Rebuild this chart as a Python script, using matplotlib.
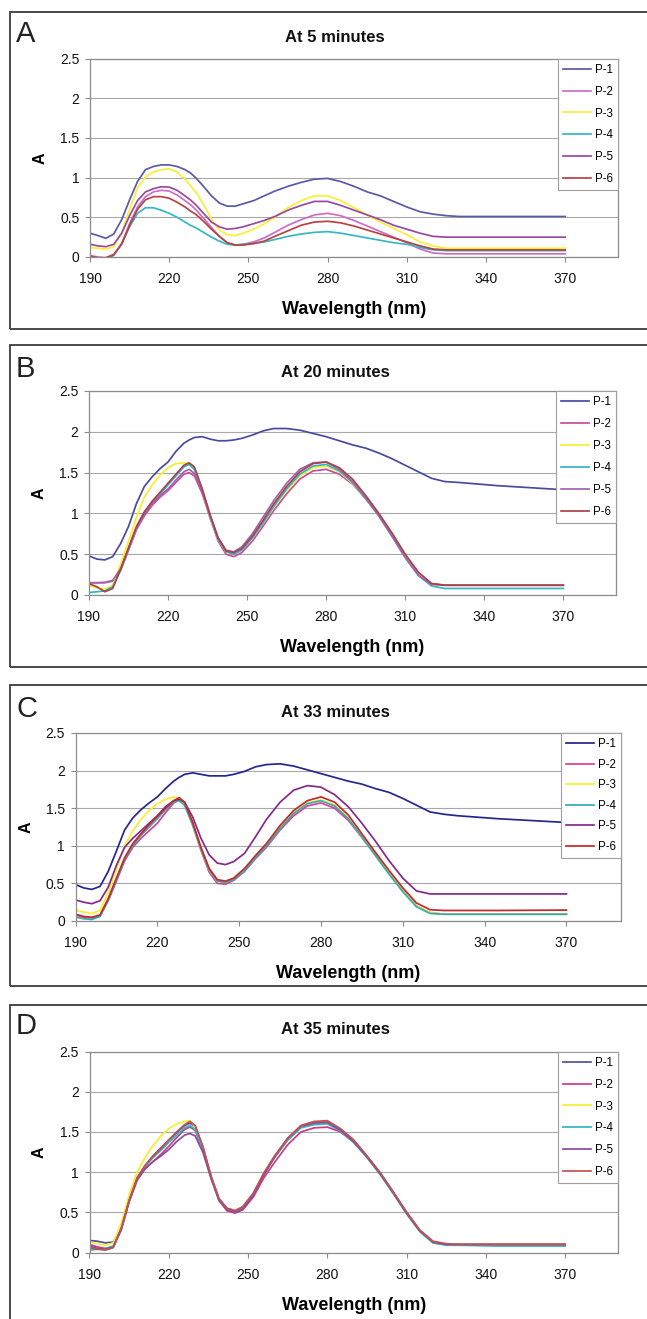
import matplotlib
matplotlib.use('Agg')
import matplotlib.pyplot as plt
from matplotlib.patches import Rectangle

plt.rcParams['font.family'] = ['Liberation Sans', 'DejaVu Sans']

# ---------------- data ----------------
WAVELENGTH = [190, 193, 196, 199, 202, 205, 208, 211, 214, 217, 220, 223, 226, 228, 230, 233,
              236, 239, 242, 245, 248, 252, 256, 260, 265, 270, 275, 280, 285, 290, 295, 300,
              305, 310, 315, 320, 325, 330, 345, 370]
SERIES = ['P-1', 'P-2', 'P-3', 'P-4', 'P-5', 'P-6']
LETTERS = ['A', 'B', 'C', 'D']
TITLES = ['At 5 minutes', 'At 20 minutes', 'At 33 minutes', 'At 35 minutes']
X_TICKS = [190, 220, 250, 280, 310, 340, 370]
Y_TICKS = [0, 0.5, 1, 1.5, 2, 2.5]
Y_TICK_LABELS = ['0', '0.5', '1', '1.5', '2', '2.5']

# Panel A - 5 minutes
A_P1 = [0.30, 0.27, 0.235, 0.29, 0.47, 0.72, 0.95, 1.10, 1.14, 1.16, 1.16, 1.14, 1.10, 1.06, 1.00, 0.89,
        0.77, 0.68, 0.64, 0.64, 0.67, 0.71, 0.77, 0.83, 0.89, 0.94, 0.98, 0.99, 0.95, 0.89, 0.82, 0.77,
        0.70, 0.63, 0.57, 0.54, 0.52, 0.51, 0.51, 0.51]
A_P2 = [0.02, 0.00, -0.01, 0.03, 0.17, 0.42, 0.63, 0.76, 0.82, 0.84, 0.83, 0.78, 0.71, 0.66, 0.60, 0.49,
        0.37, 0.26, 0.18, 0.15, 0.16, 0.19, 0.24, 0.31, 0.40, 0.47, 0.53, 0.55, 0.52, 0.46, 0.39, 0.32,
        0.25, 0.18, 0.10, 0.05, 0.04, 0.04, 0.04, 0.04]
A_P3 = [0.12, 0.11, 0.10, 0.13, 0.30, 0.60, 0.87, 1.01, 1.07, 1.10, 1.11, 1.07, 0.98, 0.90, 0.82, 0.66,
        0.48, 0.34, 0.28, 0.27, 0.30, 0.35, 0.42, 0.50, 0.62, 0.71, 0.77, 0.77, 0.71, 0.62, 0.53, 0.44,
        0.36, 0.28, 0.19, 0.14, 0.11, 0.11, 0.11, 0.11]
A_P4 = [-0.06, -0.06, -0.04, 0.02, 0.17, 0.38, 0.55, 0.62, 0.62, 0.59, 0.55, 0.50, 0.44, 0.40, 0.37, 0.31,
        0.25, 0.20, 0.16, 0.15, 0.16, 0.17, 0.19, 0.22, 0.26, 0.29, 0.31, 0.32, 0.30, 0.27, 0.24, 0.21,
        0.18, 0.16, 0.12, 0.09, 0.08, 0.08, 0.08, 0.08]
A_P5 = [0.16, 0.14, 0.13, 0.16, 0.30, 0.52, 0.71, 0.82, 0.86, 0.885, 0.88, 0.84, 0.77, 0.72, 0.66, 0.55,
        0.44, 0.38, 0.35, 0.36, 0.38, 0.42, 0.46, 0.51, 0.59, 0.65, 0.70, 0.70, 0.65, 0.59, 0.53, 0.47,
        0.40, 0.35, 0.30, 0.26, 0.25, 0.25, 0.25, 0.25]
A_P6 = [0.01, -0.01, -0.01, 0.03, 0.16, 0.40, 0.60, 0.72, 0.76, 0.76, 0.74, 0.69, 0.63, 0.58, 0.54, 0.45,
        0.35, 0.26, 0.18, 0.15, 0.15, 0.17, 0.20, 0.26, 0.33, 0.40, 0.44, 0.45, 0.43, 0.39, 0.34, 0.29,
        0.24, 0.19, 0.14, 0.10, 0.09, 0.09, 0.09, 0.09]

# Panel B - 20 minutes
B_P1 = [0.48, 0.44, 0.43, 0.47, 0.63, 0.84, 1.12, 1.33, 1.45, 1.55, 1.63, 1.76, 1.86, 1.90, 1.93, 1.94,
        1.91, 1.89, 1.89, 1.90, 1.92, 1.96, 2.01, 2.04, 2.04, 2.02, 1.98, 1.94, 1.89, 1.84, 1.80, 1.74,
        1.67, 1.59, 1.51, 1.43, 1.39, 1.38, 1.34, 1.29]
B_P2 = [0.15, 0.15, 0.15, 0.17, 0.30, 0.55, 0.80, 0.97, 1.10, 1.20, 1.28, 1.38, 1.48, 1.50, 1.46, 1.24,
        0.94, 0.66, 0.50, 0.47, 0.52, 0.66, 0.84, 1.03, 1.24, 1.42, 1.52, 1.54, 1.48, 1.36, 1.18, 0.98,
        0.74, 0.49, 0.27, 0.14, 0.12, 0.12, 0.12, 0.12]
B_P3 = [0.12, 0.09, 0.07, 0.12, 0.38, 0.66, 0.95, 1.20, 1.35, 1.47, 1.56, 1.61, 1.62, 1.61, 1.53, 1.27,
        0.96, 0.68, 0.53, 0.51, 0.56, 0.70, 0.88, 1.07, 1.28, 1.46, 1.56, 1.58, 1.51, 1.37, 1.18, 0.97,
        0.73, 0.47, 0.25, 0.13, 0.12, 0.12, 0.12, 0.12]
B_P4 = [0.03, 0.04, 0.05, 0.10, 0.30, 0.56, 0.82, 1.00, 1.13, 1.24, 1.35, 1.46, 1.57, 1.60, 1.54, 1.28,
        0.96, 0.68, 0.53, 0.50, 0.55, 0.70, 0.88, 1.08, 1.30, 1.48, 1.58, 1.60, 1.52, 1.38, 1.18, 0.97,
        0.72, 0.46, 0.24, 0.11, 0.08, 0.08, 0.08, 0.08]
B_P5 = [0.15, 0.15, 0.155, 0.18, 0.32, 0.57, 0.82, 0.99, 1.12, 1.22, 1.30, 1.41, 1.51, 1.54, 1.49, 1.26,
        0.97, 0.70, 0.55, 0.53, 0.59, 0.75, 0.95, 1.15, 1.37, 1.54, 1.62, 1.63, 1.54, 1.39, 1.19, 0.97,
        0.72, 0.46, 0.24, 0.13, 0.12, 0.12, 0.12, 0.12]
B_P6 = [0.14, 0.10, 0.04, 0.08, 0.32, 0.58, 0.84, 1.02, 1.15, 1.26, 1.37, 1.48, 1.59, 1.62, 1.57, 1.30,
        0.98, 0.70, 0.54, 0.52, 0.57, 0.72, 0.91, 1.11, 1.33, 1.51, 1.61, 1.63, 1.56, 1.42, 1.22, 1.00,
        0.76, 0.50, 0.28, 0.14, 0.12, 0.12, 0.12, 0.12]

# Panel C - 33 minutes
C_P1 = [0.485, 0.44, 0.42, 0.46, 0.66, 0.93, 1.21, 1.37, 1.48, 1.57, 1.65, 1.76, 1.86, 1.91, 1.95, 1.97,
        1.95, 1.93, 1.93, 1.93, 1.95, 1.99, 2.05, 2.08, 2.09, 2.06, 2.01, 1.96, 1.91, 1.86, 1.82, 1.76,
        1.71, 1.63, 1.54, 1.45, 1.42, 1.40, 1.36, 1.31]
C_P2 = [0.08, 0.05, 0.04, 0.07, 0.27, 0.53, 0.80, 0.98, 1.10, 1.20, 1.30, 1.44, 1.57, 1.61, 1.55, 1.27,
        0.94, 0.65, 0.50, 0.49, 0.54, 0.66, 0.83, 0.98, 1.21, 1.40, 1.53, 1.57, 1.50, 1.34, 1.11, 0.87,
        0.63, 0.40, 0.20, 0.11, 0.09, 0.09, 0.09, 0.09]
C_P3 = [0.14, 0.12, 0.10, 0.14, 0.38, 0.68, 1.00, 1.20, 1.35, 1.47, 1.56, 1.62, 1.65, 1.63, 1.55, 1.28,
        0.96, 0.68, 0.53, 0.52, 0.56, 0.68, 0.85, 1.01, 1.24, 1.44, 1.57, 1.61, 1.54, 1.37, 1.12, 0.87,
        0.63, 0.40, 0.20, 0.11, 0.09, 0.09, 0.09, 0.09]
C_P4 = [0.05, 0.03, 0.02, 0.06, 0.28, 0.55, 0.82, 1.00, 1.14, 1.25, 1.36, 1.48, 1.58, 1.60, 1.54, 1.28,
        0.96, 0.68, 0.53, 0.51, 0.55, 0.67, 0.84, 1.00, 1.23, 1.43, 1.56, 1.60, 1.53, 1.36, 1.12, 0.87,
        0.62, 0.39, 0.19, 0.10, 0.09, 0.09, 0.09, 0.09]
C_P5 = [0.28, 0.25, 0.23, 0.27, 0.45, 0.74, 0.98, 1.10, 1.20, 1.30, 1.40, 1.52, 1.60, 1.62, 1.58, 1.38,
        1.10, 0.88, 0.77, 0.75, 0.79, 0.90, 1.12, 1.35, 1.58, 1.74, 1.80, 1.78, 1.68, 1.52, 1.30, 1.06,
        0.80, 0.57, 0.40, 0.36, 0.36, 0.36, 0.36, 0.36]
C_P6 = [0.09, 0.06, 0.05, 0.08, 0.30, 0.57, 0.84, 1.03, 1.16, 1.28, 1.39, 1.50, 1.60, 1.64, 1.58, 1.31,
        0.98, 0.70, 0.55, 0.53, 0.57, 0.70, 0.87, 1.03, 1.27, 1.47, 1.60, 1.65, 1.58, 1.41, 1.16, 0.91,
        0.67, 0.44, 0.24, 0.15, 0.14, 0.14, 0.14, 0.145]

# Panel D - 35 minutes
D_P1 = [0.15, 0.14, 0.12, 0.13, 0.30, 0.64, 0.92, 1.08, 1.20, 1.30, 1.40, 1.49, 1.58, 1.61, 1.57, 1.30,
        0.95, 0.67, 0.55, 0.52, 0.56, 0.72, 0.97, 1.18, 1.40, 1.56, 1.61, 1.62, 1.53, 1.39, 1.20, 0.99,
        0.75, 0.50, 0.27, 0.12, 0.10, 0.10, 0.10, 0.10]
D_P2 = [0.10, 0.07, 0.05, 0.07, 0.28, 0.63, 0.90, 1.04, 1.13, 1.22, 1.32, 1.43, 1.53, 1.56, 1.52, 1.27,
        0.93, 0.65, 0.52, 0.49, 0.53, 0.69, 0.93, 1.12, 1.34, 1.50, 1.55, 1.56, 1.50, 1.37, 1.19, 0.98,
        0.74, 0.49, 0.27, 0.13, 0.10, 0.10, 0.10, 0.10]
D_P3 = [0.13, 0.11, 0.09, 0.12, 0.36, 0.72, 1.00, 1.18, 1.33, 1.45, 1.54, 1.60, 1.63, 1.64, 1.57, 1.29,
        0.94, 0.66, 0.54, 0.52, 0.57, 0.73, 0.99, 1.19, 1.41, 1.57, 1.61, 1.62, 1.52, 1.38, 1.19, 0.98,
        0.74, 0.49, 0.26, 0.12, 0.10, 0.10, 0.10, 0.10]
D_P4 = [0.03, 0.04, 0.05, 0.08, 0.28, 0.64, 0.92, 1.07, 1.18, 1.27, 1.37, 1.46, 1.55, 1.58, 1.53, 1.28,
        0.93, 0.65, 0.54, 0.51, 0.56, 0.73, 0.98, 1.18, 1.40, 1.55, 1.59, 1.60, 1.51, 1.37, 1.18, 0.97,
        0.73, 0.48, 0.26, 0.12, 0.09, 0.09, 0.08, 0.08]
D_P5 = [0.08, 0.05, 0.04, 0.07, 0.29, 0.64, 0.90, 1.04, 1.13, 1.20, 1.28, 1.38, 1.46, 1.48, 1.45, 1.24,
        0.92, 0.65, 0.53, 0.50, 0.54, 0.71, 0.97, 1.19, 1.42, 1.57, 1.61, 1.62, 1.52, 1.38, 1.19, 0.98,
        0.74, 0.49, 0.27, 0.13, 0.10, 0.10, 0.10, 0.10]
D_P6 = [0.06, 0.04, 0.03, 0.06, 0.30, 0.65, 0.93, 1.08, 1.19, 1.29, 1.40, 1.50, 1.59, 1.63, 1.58, 1.31,
        0.95, 0.67, 0.55, 0.52, 0.57, 0.74, 0.99, 1.20, 1.42, 1.58, 1.63, 1.64, 1.54, 1.40, 1.20, 0.99,
        0.75, 0.50, 0.28, 0.14, 0.11, 0.10, 0.10, 0.10]

PANEL_DATA = [
    [A_P1, A_P2, A_P3, A_P4, A_P5, A_P6],
    [B_P1, B_P2, B_P3, B_P4, B_P5, B_P6],
    [C_P1, C_P2, C_P3, C_P4, C_P5, C_P6],
    [D_P1, D_P2, D_P3, D_P4, D_P5, D_P6],
]

# ---------------- styling ----------------
COLORS = [
    ['#5a5aa6', '#cf6cc6', '#f7ef3a', '#36b6c6', '#984aa0', '#b84242'],
    ['#4a4aa0', '#cc4c9c', '#f5ef30', '#32b6c6', '#a262b0', '#a8424a'],
    ['#262690', '#dc3e98', '#f8ef30', '#30aeb0', '#842a8a', '#c42828'],
    ['#50509e', '#cc3c8a', '#f5ef30', '#32b6c0', '#8a4aa0', '#c25050'],
]

W, H = 647, 1319
# pixel layout: axes (left, top, right, bottom)
AX_BOX = [(90, 58.5, 618, 257), (89, 391, 616, 595), (75.5, 733, 621, 921), (89.5, 1051.5, 618, 1252.5)]
FRAME = [(10, 12, 329), (10, 345, 667), (10, 685, 986), (10, 1005, 1420)]
HEAD_BASE = [42, 377, 717, 1034]
XLABEL_Y = [309, 647.5, 973, 1305.5]
YLABEL_X = [40, 39, 26, 39]
LEG_SPACING = [0.86, 0.86, 0.74, 0.86]

fig = plt.figure(figsize=(W / 100, H / 100), dpi=100)


def fx(px):
    return px / W


def fy(py):
    return 1 - py / H


for i in range(4):
    l, t, r, b = AX_BOX[i]
    ax = fig.add_axes([fx(l), fy(b), (r - l) / W, (b - t) / H])
    for s, name in enumerate(SERIES):
        ax.plot(WAVELENGTH, PANEL_DATA[i][s], color=COLORS[i][s], lw=1.25, label=name,
                solid_joinstyle='round')
    ax.set_xlim(190, 390)
    ax.set_ylim(0, 2.5)
    ax.set_xticks(X_TICKS)
    ax.set_xticklabels([str(v) for v in X_TICKS])
    ax.set_yticks(Y_TICKS)
    ax.set_yticklabels(Y_TICK_LABELS)
    ax.set_axisbelow(True)
    ax.grid(axis='y', color='#a8a8a8', lw=0.8)
    for sp in ax.spines.values():
        sp.set_color('#8c8c8c')
        sp.set_linewidth(0.9)
    ax.tick_params(axis='x', direction='out', length=3.5, width=0.8, color='#8c8c8c',
                   labelsize=10, pad=7.6, labelcolor='#111111')
    ax.tick_params(axis='y', direction='out', length=3.5, width=0.8, color='#8c8c8c',
                   labelsize=10, pad=4.2, labelcolor='#111111')

    ax.set_xlabel('Wavelength (nm)', fontsize=13, fontweight='bold', va='center')
    ax.xaxis.set_label_coords(fx((l + r) / 2), fy(XLABEL_Y[i]), transform=fig.transFigure)
    ax.set_ylabel('A', fontsize=11.5, fontweight='bold', va='center')
    ax.yaxis.set_label_coords(fx(YLABEL_X[i]), fy((t + b) / 2), transform=fig.transFigure)

    leg = ax.legend(loc='upper right', bbox_to_anchor=(1.0, 1.0), borderaxespad=0,
                    fontsize=8.3, frameon=True, fancybox=False, framealpha=1,
                    edgecolor='#a0a0a0', handlelength=2.4, handletextpad=0.35,
                    labelspacing=LEG_SPACING[i], borderpad=0.45)
    leg.get_frame().set_linewidth(0.8)

    fig.text(fx(335), fy(HEAD_BASE[i]), TITLES[i], ha='center', va='baseline',
             fontsize=12, fontweight='bold', color='#111111')
    fig.text(fx(16), fy(HEAD_BASE[i]), LETTERS[i], ha='left', va='baseline',
             fontsize=21, color='#222222')

    fl, ft, fb = FRAME[i]
    fig.add_artist(Rectangle((fx(fl), fy(fb)), (700 - fl) / W, (fb - ft) / H,
                             transform=fig.transFigure, fill=False,
                             edgecolor='#3c3c3c', lw=1.3))

fig.savefig('out.png', dpi=100)
